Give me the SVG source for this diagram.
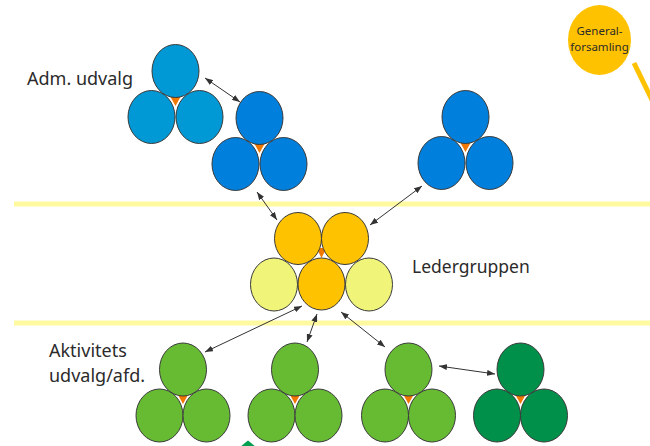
<svg xmlns="http://www.w3.org/2000/svg" width="650" height="446" viewBox="0 0 650 446">
<style>
.c{stroke:#3a3a3a;stroke-width:1}
.lb{fill:#0099d6}
.db{fill:#0080dc}
.yo{fill:#ffc200}
.py{fill:#f0f57a}
.lg{fill:#66bb33}
.dg{fill:#00904a}
.o{fill:#f07800}
.t{font-family:"Noto Sans","Open Sans","Liberation Sans",sans-serif;fill:#2b2b2b}
.band{fill:#fffaa0}
.a{stroke:#333;stroke-width:1;fill:none;marker-start:url(#ah);marker-end:url(#ah)}
</style>
<defs>
<marker id="ah" viewBox="0 0 10 10" refX="10" refY="5" markerWidth="8" markerHeight="6" markerUnits="userSpaceOnUse" orient="auto-start-reverse" preserveAspectRatio="none">
<path d="M0,0 L10,5 L0,10 z" fill="#333"/>
</marker>
</defs>
<rect class="band" x="14" y="201.5" width="636" height="5"/>
<rect class="band" x="14" y="320.5" width="636" height="5"/>

<g id="generalforsamling">
<ellipse cx="599.5" cy="40" rx="31.5" ry="35" fill="#ffc200"/>
<text class="t" x="599.5" y="35" font-size="11.5" text-anchor="middle">General-</text>
<text class="t" x="599.5" y="51" font-size="11.5" text-anchor="middle">forsamling</text>
<line x1="634" y1="63" x2="653" y2="102" stroke="#ffc200" stroke-width="5"/>
</g>

<g id="adm-label"><text class="t" x="27" y="85" font-size="18">Adm. udvalg</text></g>
<g id="leder-label"><text class="t" x="412" y="273" font-size="17.5">Ledergruppen</text></g>
<g id="akt-label"><text class="t" x="49" y="357" font-size="18">Aktivitets</text><text class="t" x="49" y="382" font-size="18">udvalg/afd.</text></g>

<g id="adm1">
<polygon class="o" points="170,96 181,96 175.5,106"/>
<ellipse class="c lb" cx="151.5" cy="117" rx="23.5" ry="26.5"/>
<ellipse class="c lb" cx="199.5" cy="117" rx="23.5" ry="26.5"/>
<ellipse class="c lb" cx="175.5" cy="71" rx="23.5" ry="26.5"/>
</g>
<g id="adm2">
<polygon class="o" points="254,143 265,143 259.5,153"/>
<ellipse class="c db" cx="235.5" cy="164" rx="23.5" ry="26.5"/>
<ellipse class="c db" cx="283.5" cy="164" rx="23.5" ry="26.5"/>
<ellipse class="c db" cx="259.5" cy="118" rx="23.5" ry="26.5"/>
</g>
<g id="adm3">
<polygon class="o" points="460,142 471,142 465.5,152"/>
<ellipse class="c db" cx="441.5" cy="163" rx="23.5" ry="26.5"/>
<ellipse class="c db" cx="489.5" cy="163" rx="23.5" ry="26.5"/>
<ellipse class="c db" cx="465.5" cy="117" rx="23.5" ry="26.5"/>
</g>

<g id="ledergruppen">
<polygon class="o" points="316.5,248 326.5,248 321.5,258"/>
<ellipse class="c py" cx="274" cy="284.5" rx="23.5" ry="26.5"/>
<ellipse class="c py" cx="369" cy="284.5" rx="23.5" ry="26.5"/>
<ellipse class="c yo" cx="321.5" cy="284" rx="23.5" ry="26"/>
<ellipse class="c yo" cx="298" cy="238.5" rx="23.5" ry="26"/>
<ellipse class="c yo" cx="345" cy="238.5" rx="23.5" ry="26"/>
</g>

<g id="akt1">
<polygon class="o" points="177.5,394 188.5,394 183,404"/>
<ellipse class="c lg" cx="159.5" cy="415.5" rx="23.5" ry="26.5"/>
<ellipse class="c lg" cx="206.5" cy="415.5" rx="23.5" ry="26.5"/>
<ellipse class="c lg" cx="183" cy="369.5" rx="23.5" ry="26.5"/>
</g>
<g id="akt2">
<polygon class="o" points="289.5,394 300.5,394 295,404"/>
<ellipse class="c lg" cx="271.5" cy="415.5" rx="23.5" ry="26.5"/>
<ellipse class="c lg" cx="318.5" cy="415.5" rx="23.5" ry="26.5"/>
<ellipse class="c lg" cx="295" cy="369.5" rx="23.5" ry="26.5"/>
</g>
<g id="akt3">
<polygon class="o" points="403,394 414,394 408.5,404"/>
<ellipse class="c lg" cx="385" cy="415.5" rx="23.5" ry="26.5"/>
<ellipse class="c lg" cx="432" cy="415.5" rx="23.5" ry="26.5"/>
<ellipse class="c lg" cx="408.5" cy="369.5" rx="23.5" ry="26.5"/>
</g>
<g id="akt4">
<polygon class="o" points="515,394 526,394 520.5,404"/>
<ellipse class="c dg" cx="497" cy="415.5" rx="23.5" ry="26.5"/>
<ellipse class="c dg" cx="544" cy="415.5" rx="23.5" ry="26.5"/>
<ellipse class="c dg" cx="520.5" cy="369.5" rx="23.5" ry="26.5"/>
</g>

<g id="green-arrow"><polygon points="240,447 248,440.5 256,447" fill="#00a050"/></g>

<g id="connectors">
<line class="a" x1="205" y1="78" x2="240" y2="102"/>
<line class="a" x1="257" y1="192" x2="277" y2="220"/>
<line class="a" x1="422" y1="186" x2="370" y2="225"/>
<line class="a" x1="302" y1="306" x2="205" y2="352"/>
<line class="a" x1="317" y1="314" x2="307" y2="342"/>
<line class="a" x1="341" y1="312" x2="385" y2="347"/>
<line class="a" x1="439" y1="366" x2="495" y2="374"/>
</g>
</svg>
